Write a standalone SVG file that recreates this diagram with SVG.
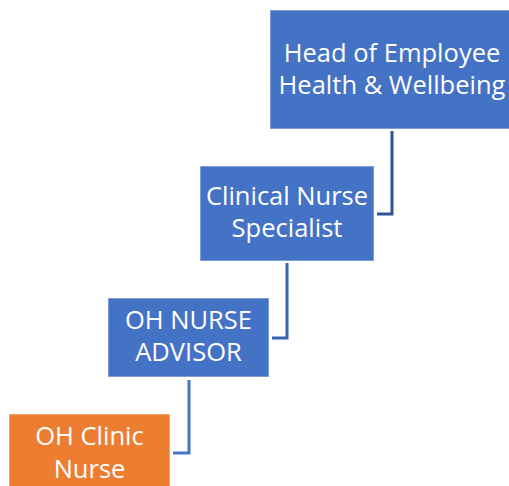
<svg xmlns="http://www.w3.org/2000/svg" width="509" height="486" viewBox="0 0 509 486">
<style>
.box{stroke:#ffffff;stroke-opacity:0.6;stroke-width:1}
.blue{fill:#4472C4}
.orange{fill:#ED7D31}
.t{font-family:"Open Sans","Noto Sans",sans-serif;font-size:25.5px;fill:#ffffff;text-anchor:middle}
.c{fill:none;stroke-width:3;stroke-linejoin:miter}
</style>
<rect width="509" height="486" fill="#ffffff"/>
<g id="connectors">
<path class="c" stroke="#2F5597" d="M392,131 V214 H377"/>
<path class="c" stroke="#3A65B5" d="M287,263 V338 H272"/>
<path class="c" stroke="#4472C4" d="M189,380 V453 H173"/>
</g>
<g id="head">
<rect class="box blue" x="270" y="10" width="246" height="119"/>
<text class="t" x="392" y="62">Head of Employee</text>
<text class="t" x="392" y="94">Health &amp; Wellbeing</text>
</g>
<g id="cns">
<rect class="box blue" x="200" y="166" width="174" height="95"/>
<text class="t" x="287" y="205">Clinical Nurse</text>
<text class="t" x="287" y="237">Specialist</text>
</g>
<g id="ohna">
<rect class="box blue" x="108" y="298" width="161" height="79"/>
<text class="t" x="188.5" y="329">OH NURSE</text>
<text class="t" x="188.5" y="361">ADVISOR</text>
</g>
<g id="ohcn">
<rect class="box orange" x="9" y="414" width="161" height="80"/>
<text class="t" x="89.5" y="445">OH Clinic</text>
<text class="t" x="89.5" y="478">Nurse</text>
</g>
</svg>
